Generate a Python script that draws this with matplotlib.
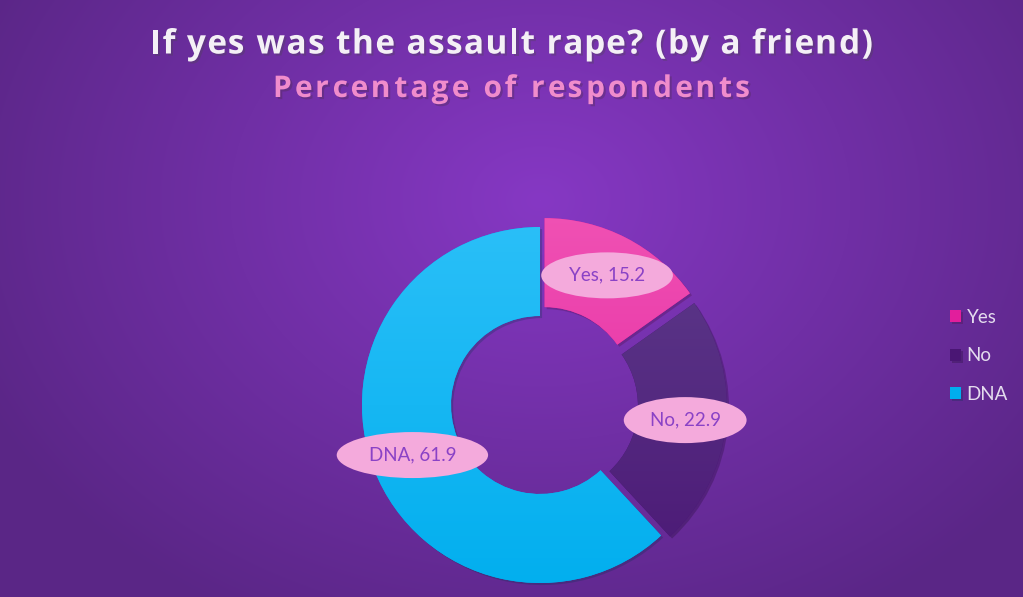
import matplotlib.pyplot as plt
import matplotlib.colors as mcolors
import matplotlib.patheffects as pe
import numpy as np
from matplotlib.patches import Ellipse

categories = ['Yes', 'No', 'DNA']
values = [15.2, 22.9, 61.9]
top_colors = ['#f052b4', '#5e3d8c', '#2cc0f8']
bottom_colors = ['#e21e9c', '#4a1674', '#00aeee']
title = 'If yes was the assault rape? (by a friend)'
subtitle = 'Percentage of respondents'

W, H = 1023, 597
fig = plt.figure(figsize=(W / 100, H / 100), dpi=100)
ax = fig.add_axes([0, 0, 1, 1])
renderer = fig.canvas.get_renderer()

# radial purple background
yy, xx = np.mgrid[0:H, 0:W]
d = np.sqrt(((xx - 540) / 620.0) ** 2 + ((yy - 200) / 480.0) ** 2)
d = np.clip(d, 0, 1)
c0 = np.array([0x86, 0x38, 0xc4]) / 255
c1 = np.array([0x5a, 0x26, 0x86]) / 255
bg = c0[None, None, :] * (1 - d[..., None]) + c1[None, None, :] * d[..., None]
ax.imshow(bg, extent=(0, W, 0, H), origin='upper', zorder=0)

cx, cy, R = 540, H - 405, 178
wedges, _ = ax.pie(values, startangle=90, counterclock=False, radius=R,
                   center=(cx, cy), explode=[10, 9, 0],
                   colors=bottom_colors, wedgeprops=dict(width=R * 0.5, linewidth=0))

# vertical gradient in each segment
t = np.linspace(0, 1, 256)[:, None]
for w, ct, cb in zip(wedges, top_colors, bottom_colors):
    w.set_path_effects([pe.SimplePatchShadow(offset=(1.5, -1.5), alpha=0.25), pe.Normal()])
    a = np.array(mcolors.to_rgb(ct))
    b = np.array(mcolors.to_rgb(cb))
    grad = a[None, None, :] * (1 - t[..., None]) + b[None, None, :] * t[..., None]
    grad = np.repeat(grad, 2, axis=1)
    im = ax.imshow(grad, extent=(cx - R - 20, cx + R + 20, cy - R - 20, cy + R + 20),
                   origin='upper', zorder=w.get_zorder() + 0.1, aspect='auto')
    im.set_clip_path(w)

# data labels in pink ellipses
for w, cat, v, rf in zip(wedges, categories, values, [0.82, 0.82, 0.77]):
    mid = np.deg2rad((w.theta1 + w.theta2) / 2)
    x = cx + R * rf * np.cos(mid)
    y = cy + R * rf * np.sin(mid)
    txt = ax.text(x, y, f'{cat}, {v}', ha='center', va='center', fontsize=13.5,
                  color='#8a42c6', family='Lato', zorder=6)
    tw = txt.get_window_extent(renderer).width
    ax.add_patch(Ellipse((x, y), tw * 1.73, 46, facecolor='#f4aadc', edgecolor='none', zorder=5))

ax.set_xlim(0, W)
ax.set_ylim(0, H)
ax.set_aspect('equal')
ax.axis('off')


def spaced_text(s, ypix, width, **kw):
    # draws s centred, letters spread so the line is `width` pixels wide
    def w(u):
        tt = fig.text(0, 0, u + 'x', **kw)
        r = tt.get_window_extent(renderer).width
        tt.remove()
        return r
    wx = w('')
    natural = w(s) - wx
    gap = (width - natural) / (len(s) - 1)
    left = (W - width) / 2
    for i, ch in enumerate(s):
        if ch == ' ':
            continue
        px = left + (w(s[:i]) - wx) + i * gap
        fig.text(px / W, 1 - ypix / H, ch, ha='left', va='center', **kw,
                 path_effects=[pe.withSimplePatchShadow(offset=(1.5, -1.5), alpha=0.3)])


spaced_text(title, 45, 723, fontsize=24, fontweight='bold', color='#f4f0f6', family='Open Sans')
spaced_text(subtitle, 89, 477, fontsize=21.5, fontweight='bold', color='#f08ccc', family='Open Sans')

leg = ax.legend(wedges, categories, loc='upper left', bbox_to_anchor=(933 / W, 1 - 292 / H),
                bbox_transform=fig.transFigure, frameon=False, handlelength=0.6, handleheight=0.6,
                labelspacing=1.15, handletextpad=0.3, prop=dict(family='Lato', size=13.5))
for tx in leg.get_texts():
    tx.set_color('#e4dcee')

fig.savefig('out.png', dpi=100)
